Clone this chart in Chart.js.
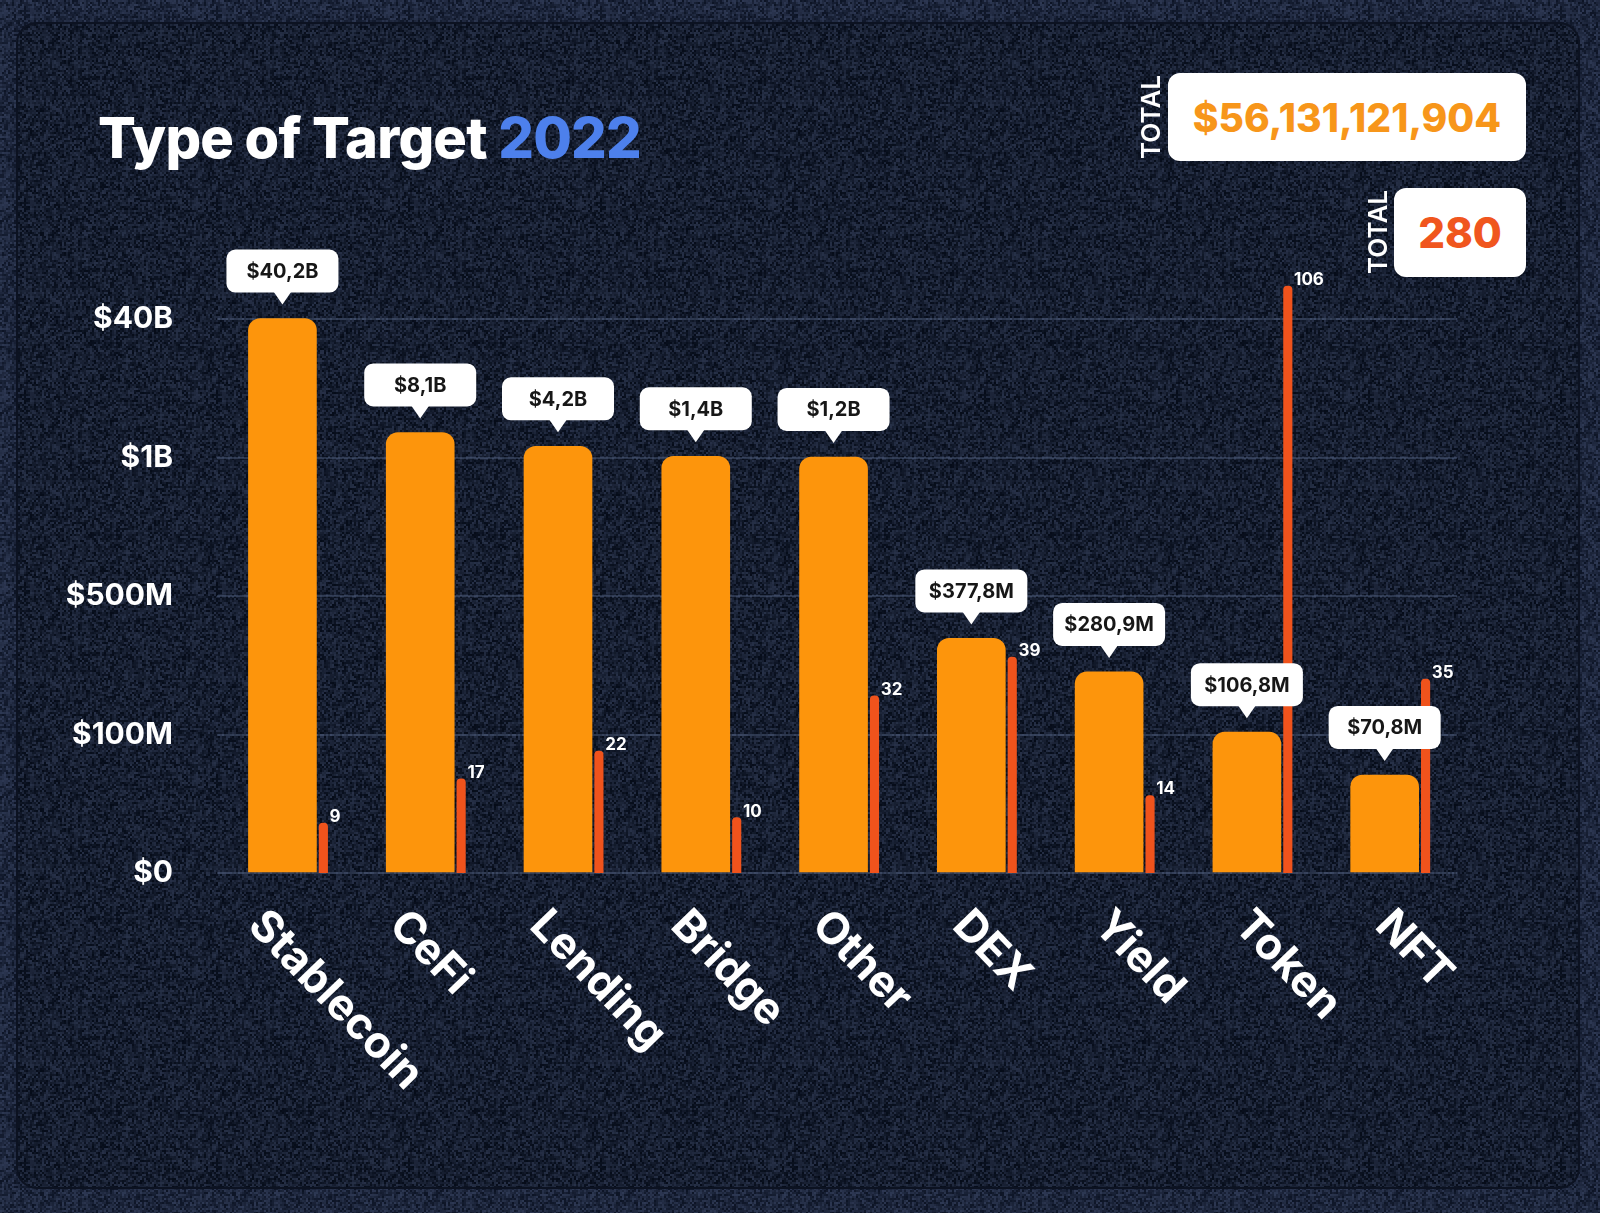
<!DOCTYPE html>
<html>
<head>
<meta charset="utf-8">
<title>Type of Target 2022</title>
<script src="https://cdn.jsdelivr.net/npm/chart.js@4.4.1/dist/chart.umd.min.js"></script>
<style>
  html, body { margin: 0; padding: 0; background: #1b2439; }
  body { width: 1600px; height: 1213px; position: relative; overflow: hidden; font-family: Inter, 'Noto Sans', sans-serif; }
  #chart { position: absolute; left: 0; top: 0; }
  .title { position: absolute; left: 98px; top: 104px; font-size: 56px; font-weight: 800; color: #fff; white-space: nowrap; letter-spacing: -0.8px; }
  .title span { color: #4d80ec; }
  .total { position: absolute; background: #fff; border-radius: 12px; display: flex; align-items: center; justify-content: center; font-weight: 800; }
  .total-label { position: absolute; color: #fff; font-size: 26px; font-weight: 600; line-height: 20px; writing-mode: vertical-rl; transform: rotate(180deg); text-align: center; }
</style>
</head>
<body>
<canvas id="chart" width="1600" height="1213"></canvas>
<div class="title">Type of Target <span>2022</span></div>
<div class="total-label" style="left:1141px; top:74px; height:86px;">TOTAL</div>
<div class="total" style="left:1168px; top:73px; width:358px; height:88px; color:#f7961a; font-size:39px;">$56,131,121,904</div>
<div class="total-label" style="left:1368px; top:189px; height:86px;">TOTAL</div>
<div class="total" style="left:1394px; top:188px; width:132px; height:89px; color:#f0561e; font-size:42px;">280</div>
<script>
// values (losses in $M, incident counts)
const categories = ['Stablecoin', 'CeFi', 'Lending', 'Bridge', 'Other', 'DEX', 'Yield', 'Token', 'NFT'];
const lossUsdM = [40200, 8100, 4200, 1400, 1200, 377.8, 280.9, 106.8, 70.8];
const lossLabels = ['$40,2B', '$8,1B', '$4,2B', '$1,4B', '$1,2B', '$377,8M', '$280,9M', '$106,8M', '$70,8M'];
const incidents = [9, 17, 22, 10, 32, 39, 14, 106, 35];
const yBreaksM = [0, 100, 500, 1000, 40000];
const yTickLabels = ['$0', '$100M', '$500M', '$1B', '$40B'];

const ORANGE = '#fd950c';
const RED = '#f0531c';

// the value axis is broken into equal bands between the tick values
function toBand(v) {
    for (let k = 0; k < yBreaksM.length - 1; k++) {
        if (v <= yBreaksM[k + 1]) {
            return k + (v - yBreaksM[k]) / (yBreaksM[k + 1] - yBreaksM[k]);
        }
    }
    const n = yBreaksM.length - 1;
    return n - 1 + (v - yBreaksM[n - 1]) / (yBreaksM[n] - yBreaksM[n - 1]);
}

class BandScale extends Chart.LinearScale {
    buildTicks() {
        return yBreaksM.map(v => ({ value: v }));
    }
    getPixelForValue(value) {
        return super.getPixelForValue(toBand(value));
    }
}
BandScale.id = 'band';
BandScale.defaults = Chart.LinearScale.defaults;
Chart.register(BandScale);

function makeNoise(base, spread) {
    const small = document.createElement('canvas');
    small.width = small.height = 96;
    const g = small.getContext('2d');
    const img = g.createImageData(96, 96);
    let s = 20221;
    for (let p = 0; p < img.data.length; p += 4) {
        s = (s * 1103515245 + 12345) & 0x7fffffff;
        const t = (s / 0x7fffffff) - 0.5;
        img.data[p] = base[0] + t * spread;
        img.data[p + 1] = base[1] + t * spread * 1.1;
        img.data[p + 2] = base[2] + t * spread * 1.4;
        img.data[p + 3] = 255;
    }
    g.putImageData(img, 0, 0);
    const big = document.createElement('canvas');
    big.width = big.height = 192;
    const bg = big.getContext('2d');
    bg.imageSmoothingEnabled = false;
    bg.drawImage(small, 0, 0, 192, 192);
    return big;
}

const backgroundPlugin = {
    id: 'background',
    beforeDraw(chart) {
        const ctx = chart.ctx;
        ctx.save();
        ctx.fillStyle = ctx.createPattern(makeNoise([29, 38, 60], 34), 'repeat');
        ctx.fillRect(0, 0, chart.width, chart.height);
        ctx.beginPath();
        ctx.roundRect(17, 23, 1562, 1165, 20);
        ctx.fillStyle = ctx.createPattern(makeNoise([22, 30, 48], 34), 'repeat');
        ctx.fill();
        ctx.lineWidth = 2;
        ctx.strokeStyle = '#0c1221';
        ctx.stroke();
        ctx.restore();
    }
};

const labelsPlugin = {
    id: 'barLabels',
    afterDatasetsDraw(chart) {
        const ctx = chart.ctx;
        ctx.save();
        // callouts above the loss bars
        chart.getDatasetMeta(0).data.forEach((bar, i) => {
            const tip = bar.y - 14;
            const w = 112, h = 43;
            const x0 = bar.x - w / 2, y0 = tip - 12 - h;
            ctx.fillStyle = '#ffffff';
            ctx.beginPath();
            ctx.roundRect(x0, y0, w, h, 9);
            ctx.fill();
            ctx.beginPath();
            ctx.moveTo(bar.x - 9, y0 + h - 1);
            ctx.lineTo(bar.x + 9, y0 + h - 1);
            ctx.lineTo(bar.x, tip);
            ctx.closePath();
            ctx.fill();
            ctx.fillStyle = '#171717';
            ctx.font = '700 20px Inter';
            ctx.textAlign = 'center';
            ctx.textBaseline = 'middle';
            ctx.fillText(lossLabels[i], bar.x, y0 + h / 2 + 1);
        });
        // counts next to the thin bars
        chart.getDatasetMeta(1).data.forEach((bar, i) => {
            ctx.fillStyle = '#ffffff';
            ctx.font = '700 17px Inter';
            ctx.textAlign = 'left';
            ctx.textBaseline = 'alphabetic';
            ctx.fillText(String(incidents[i]), bar.x + bar.width / 2 + 2, bar.y - 1);
        });
        // rotated category labels (spaced a little wider than the bars, as in the source)
        const xs = chart.scales.x;
        ctx.font = '700 44px Inter';
        ctx.fillStyle = '#ffffff';
        ctx.textAlign = 'left';
        ctx.textBaseline = 'middle';
        categories.forEach((c, i) => {
            ctx.save();
            ctx.translate(xs.getPixelForValue(i) - 30 + i * 3.1, 918);
            ctx.rotate(46 * Math.PI / 180);
            ctx.fillText(c, 0, 0);
            ctx.restore();
        });
        ctx.restore();
    }
};

const ctx = document.getElementById('chart').getContext('2d');
new Chart(ctx, {
    type: 'bar',
    data: {
        datasets: [{
            label: 'Loss',
            data: lossUsdM.map((v, i) => ({ x: i - 0.025, y: v })),
            backgroundColor: ORANGE,
            barThickness: 68,
            borderRadius: 12,
            grouped: false,
            yAxisID: 'y',
        }, {
            label: 'Incidents',
            data: incidents.map((v, i) => ({ x: i + 0.272, y: v })),
            backgroundColor: RED,
            barThickness: 8.5,
            borderRadius: 4,
            grouped: false,
            yAxisID: 'y2',
        }],
    },
    options: {
        responsive: false,
        animation: false,
        events: [],
        layout: { padding: { top: 250, right: 143, bottom: 340, left: 0 } },
        plugins: {
            legend: { display: false },
            tooltip: { enabled: false },
        },
        scales: {
            x: {
                type: 'linear',
                min: -0.5,
                max: 8.5,
                offset: false,
                display: false,
            },
            y: {
                type: 'band',
                min: 0,
                max: 4.5,
                afterFit(scale) { scale.width = 217; },
                border: { display: false },
                grid: { color: 'rgba(110, 128, 165, 0.32)', lineWidth: 2, drawTicks: false },
                ticks: {
                    color: '#ffffff',
                    padding: 44,
                    font: { family: 'Inter', weight: '700', size: 30 },
                    callback: (v, i) => yTickLabels[i],
                },
            },
            y2: {
                type: 'linear',
                min: 0,
                max: 112.5,
                display: false,
            },
        },
    },
    plugins: [backgroundPlugin, labelsPlugin],
});
</script>
</body>
</html>
